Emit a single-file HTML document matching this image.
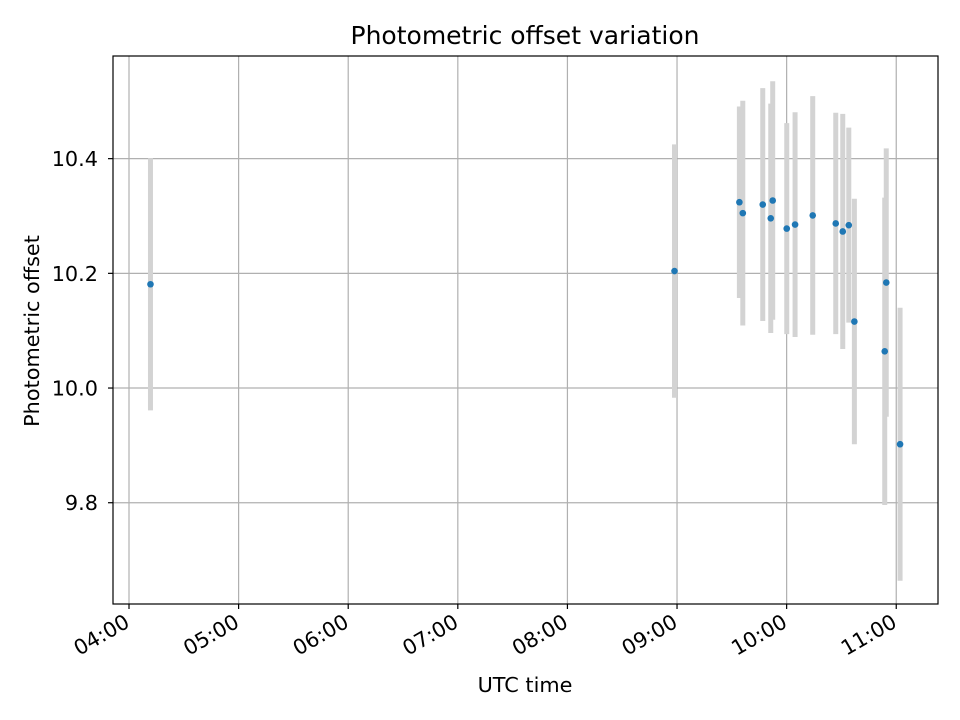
<!DOCTYPE html>
<html><head><meta charset="utf-8"><style>
body{margin:0;background:#fff}
svg{display:block;font-family:"DejaVu Sans","Liberation Sans",sans-serif}
</style></head><body>
<svg id="chart" width="960" height="720">
<rect width="960" height="720" fill="#fff"/>
<g id="grid"></g>
<g id="bars"></g>
<g id="pts"></g>
<rect x="113" y="56" width="825" height="548" fill="none" stroke="#000" stroke-width="1.2"/>
<g id="axes"></g>
<text x="525" y="44" text-anchor="middle" font-size="25">Photometric offset variation</text>
<text x="525" y="692" text-anchor="middle" font-size="20.8">UTC time</text>
<text transform="translate(39,331) rotate(-90)" text-anchor="middle" font-size="20.8">Photometric offset</text>
</svg>
<script>
const times=[4.196,8.977,9.569,9.600,9.782,9.873,9.855,10.001,10.077,10.238,10.448,10.512,10.567,10.618,10.895,10.909,11.035];
const values=[10.181,10.204,10.324,10.305,10.320,10.327,10.296,10.278,10.285,10.301,10.287,10.273,10.284,10.116,10.064,10.184,9.902];
const errors=[0.220,0.221,0.167,0.196,0.203,0.208,0.200,0.184,0.196,0.208,0.193,0.205,0.170,0.214,0.268,0.234,0.238];
const xTicks=[4,5,6,7,8,9,10,11];
const xTickLabels=["04:00","05:00","06:00","07:00","08:00","09:00","10:00","11:00"];
const yTicks=[9.8,10.0,10.2,10.4];
const yTickLabels=["9.8","10.0","10.2","10.4"];
const X0=113,X1=938,Y0=56,Y1=604,xmin=3.854,xmax=11.381,ymin=9.6234,ymax=10.579;
const xs=t=>X0+(t-xmin)/(xmax-xmin)*(X1-X0);
const ys=v=>Y1-(v-ymin)/(ymax-ymin)*(Y1-Y0);
const NS="http://www.w3.org/2000/svg";
function mk(tag,attrs,parent){const e=document.createElementNS(NS,tag);for(const k in attrs)e.setAttribute(k,attrs[k]);document.getElementById(parent).appendChild(e);return e;}
xTicks.forEach((t,i)=>{
  const x=xs(t);
  const g=mk('line',{x1:x,x2:x,y1:Y0,y2:Y1,stroke:'#b0b0b0','stroke-width':1.2},'grid');
  
  
  const tk=mk('line',{x1:x,x2:x,y1:Y1,y2:Y1+5,stroke:'#000','stroke-width':1.2},'axes');
  
  
  const ax=x+2, ay=Y1+22;
  const tx=mk('text',{x:ax,y:ay,'text-anchor':'end','font-size':20.8,transform:`rotate(-30 ${ax} ${ay})`},'axes');
  tx.textContent=xTickLabels[i];
  
  
});
yTicks.forEach((v,i)=>{
  const y=ys(v);
  const g=mk('line',{x1:X0,x2:X1,y1:y,y2:y,stroke:'#b0b0b0','stroke-width':1.2},'grid');
  
  
  const tk=mk('line',{x1:X0-5,x2:X0,y1:y,y2:y,stroke:'#000','stroke-width':1.2},'axes');
  
  
  const tx=mk('text',{x:X0-15,y:y+7.5,'text-anchor':'end','font-size':20.8},'axes');
  tx.textContent=yTickLabels[i];
  
  
});
times.forEach((t,i)=>{
  const x=xs(t);
  const b=mk('line',{x1:x,x2:x,y1:ys(values[i]+errors[i]),y2:ys(values[i]-errors[i]),stroke:'#d3d3d3','stroke-width':5},'bars');
  
  
  const p=mk('circle',{cx:x,cy:ys(values[i]),r:3.3,fill:'#1f77b4'},'pts');
  
  
});
</script>
</body></html>
